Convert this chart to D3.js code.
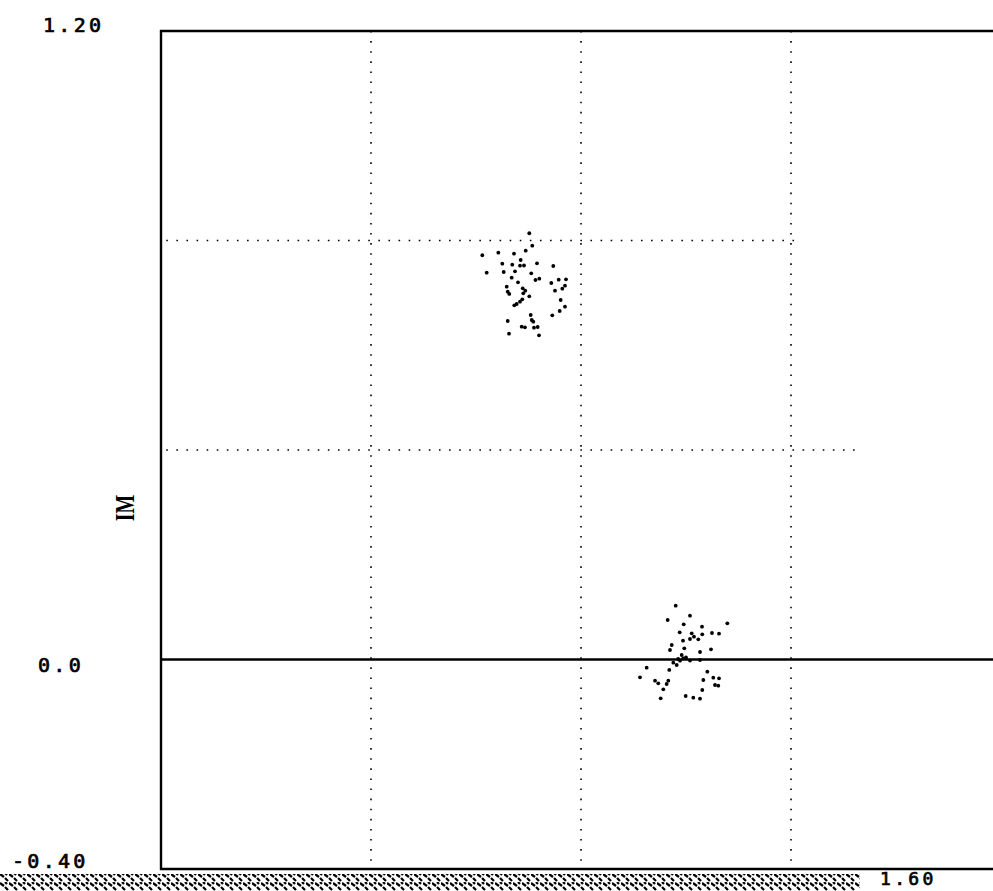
<!DOCTYPE html>
<html><head><meta charset="utf-8">
<script src="https://cdn.jsdelivr.net/npm/d3@7"></script>
<style>body{margin:0;background:#fff}svg{display:block}</style>
</head><body>
<svg id="c" width="993" height="891"></svg>
<script>
// Upper cluster (RE, IM)
const cluster1RE = [0.7015,0.612,0.6425,0.6724,0.6947,0.7072,0.6204,0.6501,0.6528,0.6691,0.6851,0.6838,0.6914,0.7162,0.6743,0.7053,0.7472,0.668,0.7206,0.7133,0.68,0.7434,0.7575,0.7714,0.6585,0.6604,0.6634,0.689,0.6939,0.6901,0.7695,0.7644,0.7505,0.7015,0.6882,0.6838,0.673,0.6775,0.7613,0.7695,0.7594,0.7453,0.7042,0.7061,0.7091,0.6604,0.687,0.6933,0.7105,0.7175,0.6629,0.72];
const cluster1IM = [0.8138,0.7718,0.7767,0.7748,0.7805,0.7901,0.7385,0.7557,0.7399,0.7538,0.7628,0.7519,0.7523,0.7565,0.7412,0.7374,0.7513,0.729,0.7271,0.7246,0.7202,0.7189,0.7252,0.7259,0.7118,0.7022,0.6979,0.7087,0.7042,0.6992,0.7137,0.708,0.7042,0.6935,0.6877,0.6832,0.6763,0.6788,0.6864,0.6736,0.6654,0.6572,0.6578,0.6482,0.645,0.6463,0.6354,0.6343,0.6335,0.6348,0.6221,0.619];
// Lower cluster (RE, IM)
const cluster2RE = [0.9804,1.0076,0.9651,0.9956,1.0305,1.0787,0.988,1.0109,1.031,1.0495,1.0629,1.0076,1.0152,1.0234,0.9943,0.9728,0.9695,0.9968,1.0476,1.0267,0.9918,0.9949,0.9886,0.9758,0.9823,1.0267,0.9682,0.9251,0.9124,1.0406,0.941,0.9472,0.9663,0.9632,1.033,1.052,1.0629,1.0552,1.0615,0.9568,1.031,0.9518,0.9994,1.0139,1.0267,1.0,1.0076,0.985];
const cluster2IM = [0.1027,0.0836,0.0754,0.0672,0.0626,0.0691,0.0519,0.05,0.0481,0.0506,0.0493,0.0391,0.0435,0.0386,0.0359,0.0277,0.0181,0.0214,0.0195,0.0143,0.0086,0.0023,-0.0023,-0.0061,-0.0105,-0.001,-0.02,-0.0157,-0.034,-0.0233,-0.0405,-0.0454,-0.0405,-0.0468,-0.0391,-0.0347,-0.0359,-0.0487,-0.05,-0.0569,-0.0582,-0.0741,-0.0697,-0.0729,-0.0748,0.004,-0.002,0.001];
const xTicks = [0.4, 0.8, 1.2];
const yTicks = [0.4, 0.8];
const yLabels = ["1.20", "0.0", "-0.40"];
const xLabelRight = "1.60";
const yTitle = "IM";

const svg = d3.select("#c");
const x = d3.scaleLinear().domain([0, 1.6]).range([161, 1001]);
const y = d3.scaleLinear().domain([-0.4, 1.2]).range([869, 31]);

// scan artifact strip at bottom
const defs = svg.append("defs");
const pat = defs.append("pattern").attr("id","scan").attr("width",9).attr("height",9).attr("patternUnits","userSpaceOnUse");
pat.append("path").attr("d","M0,1 L4,4 M5,5 L8,8 M5,0 L7,2").attr("stroke","#000").attr("stroke-width",2.2);
svg.append("rect").attr("x",0).attr("y",874).attr("width",860).attr("height",17).attr("fill","url(#scan)");

// dotted grid
const grid = svg.append("g").attr("stroke","#000").attr("stroke-width",1.6).attr("stroke-dasharray","1.6,8.5");
grid.selectAll("line.v").data(xTicks).join("line")
  .attr("x1",d=>x(d)).attr("x2",d=>x(d)).attr("y1",y(1.2)).attr("y2",y(-0.4));
grid.selectAll("line.h").data(yTicks).join("line")
  .attr("x1",x(0.01)).attr("x2",d=>d===0.8?x(1.21):x(1.33)).attr("y1",d=>y(d)).attr("y2",d=>y(d));

// frame and zero line
const frame = svg.append("g").attr("stroke","#000").attr("stroke-width",2.4).attr("fill","none");
frame.append("path").attr("d",`M${x(1.6)},${y(1.2)} H${x(0)} V${y(-0.4)} H${x(1.6)}`);
frame.append("line").attr("x1",x(0)).attr("x2",x(1.6)).attr("y1",y(0)).attr("y2",y(0));

// points
const pts = cluster1RE.map((v,i)=>[v,cluster1IM[i]]).concat(cluster2RE.map((v,i)=>[v,cluster2IM[i]]));
svg.append("g").selectAll("circle").data(pts).join("circle")
  .attr("cx",d=>x(d[0])).attr("cy",d=>y(d[1])).attr("r",1.9).attr("fill","#000");

// labels
const font = "'DejaVu Sans Mono', monospace";
const lx = [43, 38, 12];
const ly = [32, 672, 868];
svg.append("g").selectAll("text").data(yLabels).join("text")
  .attr("x",(d,i)=>lx[i]).attr("y",(d,i)=>ly[i])
  .attr("font-family",font).attr("font-size",20).attr("letter-spacing",3.3)
  .attr("fill","#000").attr("stroke","#000").attr("stroke-width",0.7).text(d=>d);
svg.append("text").attr("x",880).attr("y",885)
  .attr("font-family",font).attr("font-size",18).attr("letter-spacing",3.3)
  .attr("fill","#000").attr("stroke","#000").attr("stroke-width",0.7).text(xLabelRight);
svg.append("text").attr("transform",`translate(134,${y(0.4)+58}) rotate(-90) scale(1,1.4)`)
  .attr("text-anchor","middle").attr("font-family","'Liberation Serif', serif").attr("font-weight","bold").attr("font-size",20).attr("fill","#000").text(yTitle);
</script>
</body></html>
